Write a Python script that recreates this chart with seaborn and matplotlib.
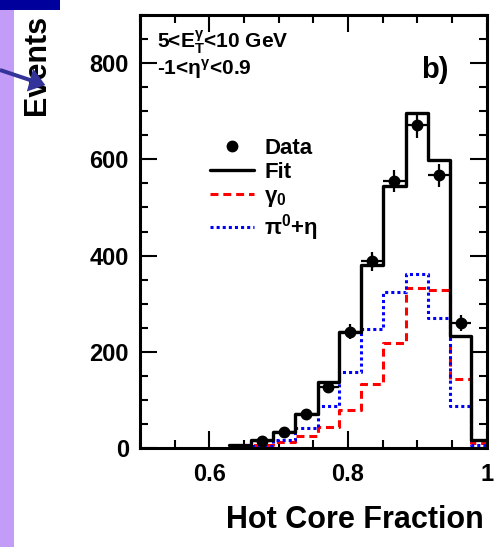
import numpy as np
import pandas as pd
import matplotlib
matplotlib.use("Agg")
import matplotlib.pyplot as plt
import seaborn as sns
from matplotlib.ticker import MultipleLocator, FixedLocator, FuncFormatter
from matplotlib.patches import Rectangle, FancyArrow
from matplotlib.lines import Line2D

# Hot core fraction binning
bin_edges = [0.628, 0.660, 0.692, 0.724, 0.756, 0.787, 0.819,
             0.851, 0.883, 0.915, 0.947, 0.978, 1.010]
# Fit = prompt photon + neutral meson templates
fit_counts = [6, 16, 34, 71, 138, 242, 380, 544, 696, 598, 232, 17]
gamma_counts = [4, 6, 13, 25, 44, 80, 133, 219, 333, 328, 143, 10]
meson_counts = [1, 4, 17, 42, 88, 159, 247, 324, 362, 270, 88, 6]
# Measured events (bins 2..11)
data_bins = [1, 2, 3, 4, 5, 6, 7, 8, 9, 10]
data_counts = [15, 33, 70, 127, 242, 388, 555, 671, 567, 260]

x_ticks = [0.6, 0.8, 1.0]
y_ticks = [0, 200, 400, 600, 800]

sns.set_style("ticks")
plt.rcParams["font.family"] = ["Liberation Sans", "DejaVu Sans"]
plt.rcParams["font.weight"] = "bold"
plt.rcParams["mathtext.default"] = "regular"
for key in ["text.color", "axes.labelcolor", "xtick.color", "ytick.color",
            "axes.edgecolor"]:
    plt.rcParams[key] = "black"

edges = np.array(bin_edges)
centers = 0.5 * (edges[:-1] + edges[1:])
half_w = 0.5 * np.diff(edges)
hist = pd.DataFrame({"x": centers, "fit": fit_counts,
                     "gamma": gamma_counts, "meson": meson_counts})

fig = plt.figure(figsize=(4.98, 5.47), dpi=100)
fig.patch.set_facecolor("white")
ax = fig.add_axes([140 / 498, 1 - 448 / 547, 346.7 / 498, 433 / 547])

red_dash = (0, (2.6, 1.6))
blue_dot = (0, (1, 1))
sns.histplot(data=hist, x="x", weights="gamma", bins=list(bin_edges),
             element="step", fill=False, color="#ff0000", linewidth=2.2,
             linestyle=red_dash, ax=ax)
sns.histplot(data=hist, x="x", weights="meson", bins=list(bin_edges),
             element="step", fill=False, color="#0000ff", linewidth=2.2,
             linestyle=blue_dot, ax=ax)
sns.histplot(data=hist, x="x", weights="fit", bins=list(bin_edges),
             element="step", fill=False, color="black", linewidth=2.4, ax=ax)

dx = centers[data_bins]
dy = np.array(data_counts, dtype=float)
ax.errorbar(dx, dy, yerr=np.sqrt(dy), xerr=half_w[data_bins],
            fmt="o", color="black", markersize=7.5,
            elinewidth=1.6, capsize=0, zorder=5)

ax.set_xlim(0.5, 1.0)
ax.set_ylim(0, 900)
ax.xaxis.set_major_locator(FixedLocator(x_ticks))
ax.xaxis.set_minor_locator(MultipleLocator(0.05))
ax.yaxis.set_major_locator(FixedLocator(y_ticks))
ax.yaxis.set_minor_locator(MultipleLocator(50))
ax.xaxis.set_major_formatter(FuncFormatter(lambda v, p: "1" if abs(v - 1) < 1e-9 else f"{v:.1f}"))
ax.tick_params(which="both", direction="in", top=True, right=True,
               width=1.5, colors="black", labelsize=17)
ax.tick_params(which="major", length=12)
ax.tick_params(which="minor", length=6)
ax.tick_params(axis="x", pad=11)
ax.tick_params(axis="y", pad=8)
for lab in ax.get_xticklabels() + ax.get_yticklabels():
    lab.set_fontweight("bold")
for sp in ax.spines.values():
    sp.set_linewidth(2.2)
    sp.set_color("black")

ax.set_xlabel("Hot Core Fraction", fontsize=22, fontweight="bold",
              ha="right", va="top", color="black")
ax.xaxis.set_label_coords((484 - 140) / 346.7, -(505 - 448) / 433)
ax.set_ylabel("Events", fontsize=22, fontweight="bold", rotation=90,
              rotation_mode="default", ha="center", va="top", color="black")
ax.yaxis.set_label_coords((37 - 140) / 346.7, 1.0)

ax.text(0.05, 0.938, r"5<$E_T^{\gamma}$<10 GeV", transform=ax.transAxes,
        fontsize=15, fontweight="bold", ha="left", va="center")
ax.text(0.05, 0.876, r"-1<$\eta^{\gamma}$<0.9", transform=ax.transAxes,
        fontsize=15, fontweight="bold", ha="left", va="center")
ax.text(0.81, 0.873, "b)", transform=ax.transAxes,
        fontsize=21, fontweight="bold", ha="left", va="center")

handles = [Line2D([], [], color="black", marker="o", markersize=7.5,
                  linestyle="none"),
           Line2D([], [], color="black", lw=2.4),
           Line2D([], [], color="#ff0000", lw=2.2, linestyle=red_dash),
           Line2D([], [], color="#0000ff", lw=2.2, linestyle=blue_dot)]
labels = ["Data", "Fit", r"$\gamma_0$", r"$\pi^0$+$\eta$"]
ax.legend(handles, labels, loc="upper left",
          bbox_to_anchor=((210 - 140) / 346.7, (448 - 138) / 433),
          frameon=False, borderpad=0, borderaxespad=0, handlelength=2.0,
          handletextpad=0.45, labelspacing=0.14,
          prop={"size": 16, "weight": "bold"})

# slide decoration along the left edge
fig.patches.append(Rectangle((0, 0), 14 / 498, 1 - 10 / 547,
                             transform=fig.transFigure, facecolor="#c39cf7",
                             edgecolor="none", zorder=0))
fig.patches.append(Rectangle((0, 1 - 10 / 547), 60 / 498, 10 / 547,
                             transform=fig.transFigure, facecolor="#00009c",
                             edgecolor="none", zorder=0))
fig.patches.append(FancyArrow(0, 1 - 70 / 547, 30 / 498, -10 / 547,
                              width=4 / 547, head_width=24 / 547,
                              head_length=16 / 498,
                              length_includes_head=False,
                              transform=fig.transFigure,
                              facecolor="#33339a", edgecolor="none", zorder=1))

fig.savefig("out.png", dpi=100)
